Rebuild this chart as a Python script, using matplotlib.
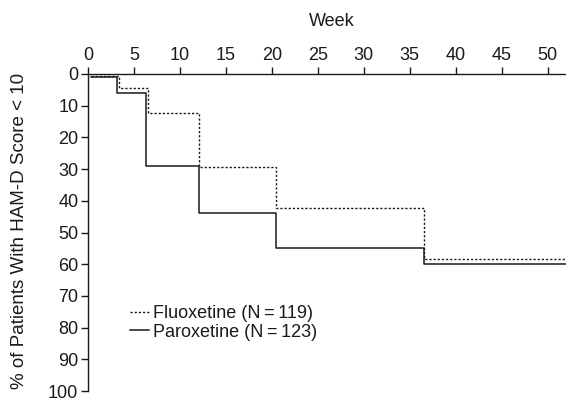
import matplotlib
matplotlib.use("Agg")
import matplotlib.pyplot as plt

plt.rcParams['font.family'] = ['Liberation Sans', 'DejaVu Sans']

# step times (weeks) and cumulative % of patients with HAM-D < 10
paro_weeks = [0.3, 3.2, 6.3, 12.1, 20.5, 36.6, 52]
paro_pct = [1, 6, 29, 44, 55, 60, 60]
fluo_weeks = [0.3, 3.4, 6.5, 12.1, 20.5, 36.6, 52]
fluo_pct = [0.5, 4.3, 12.4, 29.2, 42.2, 58.5, 58.5]

x_ticks = list(range(0, 51, 5))
y_ticks = list(range(0, 101, 10))

fs = 13
fig = plt.figure(figsize=(5.66, 3.98), dpi=100)
ax = fig.add_axes([88 / 566, 1 - 391 / 398, 1 - 88 / 566, (391 - 74) / 398])

ink = "#1a1a1a"
ax.step(fluo_weeks, fluo_pct, where="post", color=ink, lw=1.0,
        linestyle=(0, (1.6, 1.4)), label="Fluoxetine (N\u2009=\u2009119)")
ax.step(paro_weeks, paro_pct, where="post", color=ink, lw=1.1,
        label="Paroxetine (N\u2009=\u2009123)")

ax.set_xlim(0, 52)
ax.set_ylim(100, 0)
ax.set_xticks(x_ticks)
ax.set_yticks(y_ticks)

ax.xaxis.tick_top()
ax.spines["bottom"].set_visible(False)
ax.spines["right"].set_visible(False)
for s in ("top", "left"):
    ax.spines[s].set_linewidth(1.0)
    ax.spines[s].set_color(ink)
ax.tick_params(axis="both", direction="out", length=5, width=1.0,
               color=ink, labelsize=fs, labelcolor=ink, pad=2)

ax.text((332 - 88) / 478, 1 + (74 - 22) / 317, "Week", transform=ax.transAxes,
        ha="center", va="center", fontsize=fs, color=ink)
ax.set_ylabel("% of Patients With HAM-D Score < 10", fontsize=13.5, color=ink)
ax.yaxis.set_label_coords(-0.125, 0.505)

leg = ax.legend(loc="upper left", bbox_to_anchor=(0.088, 0.271), frameon=False,
                handlelength=1.05, handletextpad=0.2, labelspacing=0.08,
                borderpad=0, fontsize=fs, borderaxespad=0)
for t in leg.get_texts():
    t.set_color(ink)

fig.savefig("out.png", dpi=100)
